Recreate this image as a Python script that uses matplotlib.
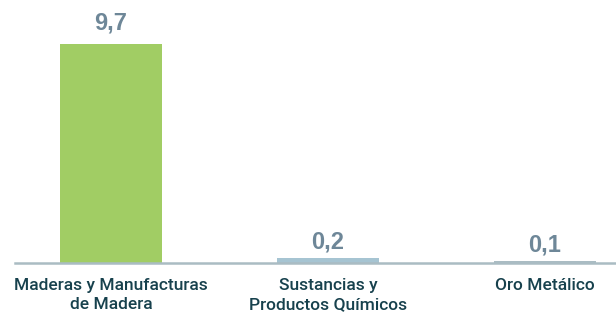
import matplotlib
matplotlib.use("Agg")
import matplotlib.pyplot as plt

categories = ["Maderas y Manufacturas\nde Madera", "Sustancias y\nProductos Químicos", "Oro Metálico"]
values = [9.7, 0.2, 0.1]
value_labels = ["9,7", "0,2", "0,1"]
colors = ["#a1cd64", "#a6c4d2", "#aabcc3"]
label_offsets = [7, 3.5, 3]

W, H = 616, 316
fig = plt.figure(figsize=(W / 100, H / 100), dpi=100)
left_px, right_px, base_px = 15, 616, 263
ax = fig.add_axes([left_px / W, (H - base_px) / H, (right_px - left_px) / W, base_px / H])

spacing = 217.0
px_per_unit = 219 / 9.7
x = list(range(len(categories)))
ax.bar(x, values, width=102 / spacing, color=colors, zorder=2)
ax.set_xlim((left_px - 111) / spacing, (right_px - 111) / spacing)
ax.set_ylim(0, base_px / px_per_unit)

for xi, v, lab, off in zip(x, values, value_labels, label_offsets):
    ax.annotate(lab, (xi, v), xytext=(0, off), textcoords="offset points",
                ha="center", va="bottom", fontsize=17, fontweight="bold",
                color="#6e8798", family="Liberation Sans")

ax.set_xticks(x)
ax.set_xticklabels(categories, fontsize=12.5, color="#17414d", family="Roboto",
                   fontweight="medium", linespacing=1.3)
ax.tick_params(axis="x", length=0, pad=11)
ax.set_yticks([])
for s in ["top", "right", "left"]:
    ax.spines[s].set_visible(False)
ax.spines["bottom"].set_color("#aabcc3")
ax.spines["bottom"].set_linewidth(1.8)
ax.spines["bottom"].set_zorder(3)

fig.savefig("out.png", dpi=100)
